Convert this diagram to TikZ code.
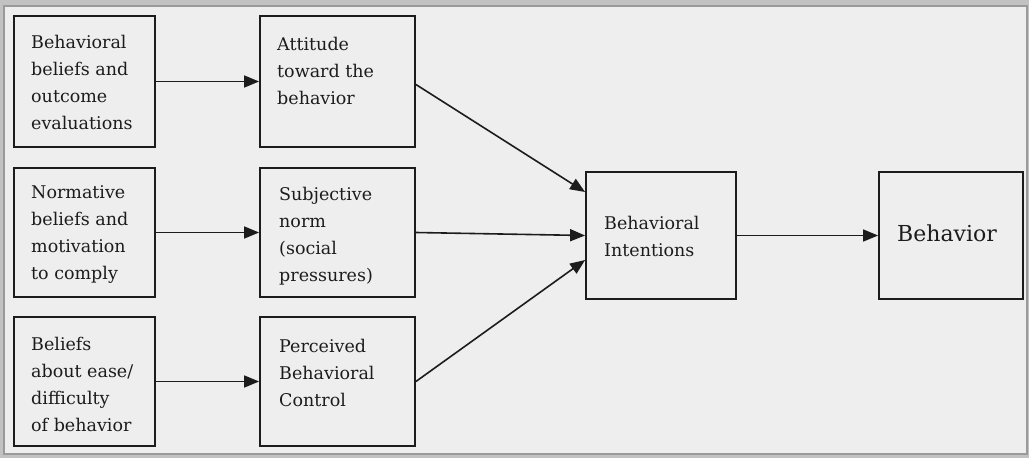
\documentclass[tikz,border=0pt]{standalone}
\usepackage{fontspec}
\setmainfont{DejaVu Serif}
\usetikzlibrary{arrows.meta}
\definecolor{paper}{HTML}{EEEEEE}
\definecolor{ink}{HTML}{1C1C1C}
\definecolor{rim}{HTML}{9A9A9A}
\tikzset{
  box/.style={draw=ink, line width=1.8pt, fill=none, inner sep=0pt},
  lbl/.style={anchor=north west, align=left, inner sep=0pt, text=ink,
              font=\fontsize{17.5}{27}\selectfont},
  big/.style={anchor=base west, inner sep=0pt, text=ink,
              font=\fontsize{22}{26}\selectfont},
  link/.style={draw=ink, line width=1.6pt,
               -{Triangle[length=15pt, width=12pt]}},
}
\begin{document}
\begin{tikzpicture}[x=1pt, y=-1pt]
  \useasboundingbox (0,0) rectangle (1029,458);
  % page and frame
  \fill[rim!60] (0,0) rectangle (1029,458);
  \fill[paper] (4,6) rectangle (1027,454);
  \draw[rim, line width=1.5pt] (4,6) rectangle (1027,454);

  % boxes
  \node[box, minimum width=141pt, minimum height=131pt] (beliefs)   at (84.5, 81.5) {};
  \node[box, minimum width=155pt, minimum height=131pt] (attitude)  at (337.5, 81.5) {};
  \node[box, minimum width=141pt, minimum height=129pt] (normative) at (84.5, 232.5) {};
  \node[box, minimum width=155pt, minimum height=129pt] (norm)      at (337.5, 232.5) {};
  \node[box, minimum width=141pt, minimum height=129pt] (ease)      at (84.5, 381.5) {};
  \node[box, minimum width=155pt, minimum height=129pt] (control)   at (337.5, 381.5) {};
  \node[box, minimum width=150pt, minimum height=127pt] (intent)    at (661, 235.5) {};
  \node[box, minimum width=144pt, minimum height=127pt] (behavior)  at (951, 235.5) {};

  % texts (top-left corner of each first line)
  \node[lbl] (t-beliefs)   at (31, 35)   {Behavioral\\beliefs and\\outcome\\evaluations};
  \node[lbl] (t-attitude)  at (277, 37)  {Attitude\\toward the\\behavior};
  \node[lbl] (t-normative) at (31, 185.5) {Normative\\beliefs and\\motivation\\to comply};
  \node[lbl] (t-norm)      at (279, 187) {Subjective\\norm\\(social\\pressures)};
  \node[lbl] (t-ease)      at (31, 337)  {Beliefs\\about ease/\\difficulty\\of behavior};
  \node[lbl] (t-control)   at (279, 339) {Perceived\\Behavioral\\Control};
  \node[lbl] (t-intent)    at (604, 216) {Behavioral\\Intentions};
  \node[big] (t-behavior)  at (897, 241) {Behavior};

  % connectors
  \draw[link] (beliefs.east) -- (attitude.west);
  \draw[link] (normative.east) -- (norm.west);
  \draw[link] (ease.east) -- (control.west);
  \draw[link] ([yshift=-3pt]attitude.east) -- ([yshift=43.5pt]intent.west);
  \draw[link] (norm.east) -- (intent.west);
  \draw[link] (control.east) -- ([yshift=-24.5pt]intent.west);
  \draw[link] (intent.east) -- (behavior.west);
\end{tikzpicture}
\end{document}
